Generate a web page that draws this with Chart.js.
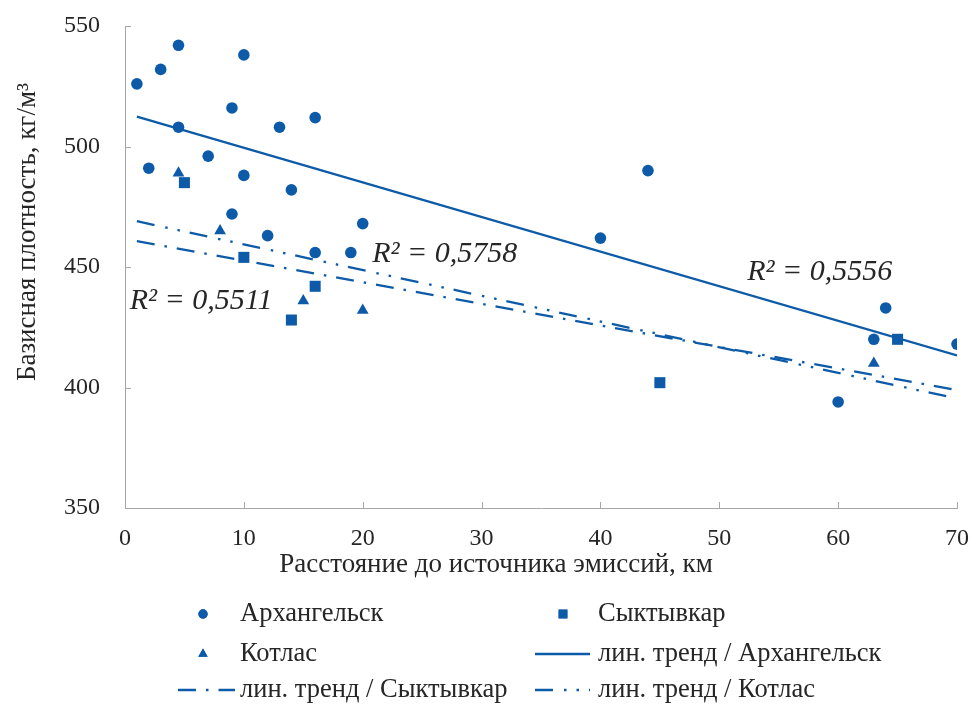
<!DOCTYPE html>
<html>
<head>
<meta charset="utf-8">
<title>Базисная плотность</title>
<script src="https://cdn.jsdelivr.net/npm/chart.js@4.4.1/dist/chart.umd.min.js"></script>
<style>
  html, body { margin: 0; padding: 0; background: #fff; }
</style>
</head>
<body>
<canvas id="chart" width="973" height="704"></canvas>
<script>
// values
const arhX = [1, 3, 4.5, 10, 9, 4.5, 13, 16, 2, 7, 10, 14, 9, 12, 20, 16, 19, 40, 44, 64, 63, 70, 60];
const arhY = [526, 532, 542, 538, 516, 508, 508, 512, 491, 496, 488, 482, 472, 463, 468, 456, 456, 462, 490, 433, 420, 418, 394];
const syktX = [5, 10, 14, 16, 45, 65];
const syktY = [485, 454, 428, 442, 402, 420];
const kotX = [4.5, 8, 15, 20, 63];
const kotY = [489, 465, 436, 432, 410];

// trend line ends (x = 1 and x = 70)
const trendX = [1, 70];
const arhTrend = [512.4, 413.3];
const syktTrend = [460.7, 398.9];
const kotTrend = [469, 395.4];

const xTicks = [0, 10, 20, 30, 40, 50, 60, 70];
const yTicks = [350, 400, 450, 500, 550];

const r2Labels = ["R² = 0,5758", "R² = 0,5511", "R² = 0,5556"];
const r2Anchors = [[20.8, 451.9], [0.4, 432.4], [52.35, 444.4]];

const BLUE = "#0d5ba8";
const AXIS = "#a6a6a6";
const TEXT = "#262626";
const SERIF = "'Liberation Serif', 'Times New Roman', serif";

const pts = (xs, ys) => xs.map((x, i) => ({ x: x, y: ys[i] }));

// inward tick marks, axis titles, R² notes and the 2-column legend
const decor = {
  id: "decor",
  afterDraw(chart) {
    const { ctx, chartArea: a, scales: { x, y } } = chart;
    ctx.save();
    ctx.strokeStyle = AXIS;
    ctx.lineWidth = 1;
    ctx.beginPath();
    xTicks.slice(1).forEach(v => {
      const px = Math.round(x.getPixelForValue(v)) + 0.5;
      ctx.moveTo(px, a.bottom);
      ctx.lineTo(px, a.bottom - 6);
    });
    yTicks.slice(1).forEach(v => {
      const py = Math.round(y.getPixelForValue(v)) + 0.5;
      ctx.moveTo(a.left, py);
      ctx.lineTo(a.left + 6, py);
    });
    ctx.stroke();

    ctx.fillStyle = TEXT;
    ctx.font = "27px " + SERIF;
    ctx.textAlign = "center";
    ctx.textBaseline = "middle";
    ctx.fillText("Расстояние до источника эмиссий, км", 496, 565);
    ctx.save();
    ctx.translate(28, 232);
    ctx.rotate(-Math.PI / 2);
    ctx.fillText("Базисная плотность, кг/м³", 0, 0);
    ctx.restore();

    ctx.font = "italic 30px " + SERIF;
    ctx.textAlign = "left";
    ctx.textBaseline = "alphabetic";
    r2Labels.forEach((t, i) => {
      ctx.fillText(t, x.getPixelForValue(r2Anchors[i][0]), y.getPixelForValue(r2Anchors[i][1]));
    });

    // legend
    const cols = [{ mark: 203, line: [178, 235], text: 240 }, { mark: 563, line: [535, 590], text: 598 }];
    const rows = [614, 654, 690];
    ctx.font = "26.5px " + SERIF;
    ctx.textBaseline = "middle";
    chart.data.datasets.forEach((ds, i) => {
      const c = cols[i % 2], yy = rows[Math.floor(i / 2)];
      ctx.fillStyle = BLUE;
      ctx.strokeStyle = BLUE;
      if (ds.showLine) {
        ctx.save();
        ctx.lineWidth = ds.borderWidth;
        ctx.setLineDash(ds.borderDash || []);
        ctx.beginPath();
        ctx.moveTo(c.line[0], yy);
        ctx.lineTo(c.line[1], yy);
        ctx.stroke();
        ctx.restore();
      } else {
        Chart.helpers.drawPoint(ctx, {
          pointStyle: ds.pointStyle, radius: ds.pointRadius * 0.8, rotation: 0, borderWidth: 0
        }, c.mark, yy);
        ctx.fill();
      }
      ctx.fillStyle = TEXT;
      ctx.fillText(ds.label, c.text, yy);
    });
    ctx.restore();
  }
};

new Chart(document.getElementById("chart"), {
  type: "scatter",
  data: {
    datasets: [
      { label: "Архангельск", data: pts(arhX, arhY), pointStyle: "circle", pointRadius: 5.8 },
      { label: "Сыктывкар", data: pts(syktX, syktY), pointStyle: "rect", pointRadius: 7.8 },
      { label: "Котлас", data: pts(kotX, kotY), pointStyle: "triangle", pointRadius: 6.8 },
      { label: "лин. тренд / Архангельск", data: pts(trendX, arhTrend), showLine: true, pointRadius: 0, borderWidth: 2.3 },
      { label: "лин. тренд / Сыктывкар", data: pts(trendX, syktTrend), showLine: true, pointRadius: 0, borderWidth: 2.3, borderDash: [18, 10, 2.5, 10] },
      { label: "лин. тренд / Котлас", data: pts(trendX, kotTrend), showLine: true, pointRadius: 0, borderWidth: 2.3, borderDash: [18, 11, 2.5, 10, 2.5, 10] },
    ].map(ds => Object.assign({
      backgroundColor: BLUE,
      borderColor: BLUE,
      pointBorderWidth: 0,
      pointHoverRadius: 0,
    }, ds)),
  },
  options: {
    responsive: false,
    animation: false,
    layout: { padding: { left: 0, top: 26, right: 16, bottom: 0 } },
    plugins: {
      legend: { display: false },
      tooltip: { enabled: false },
    },
    scales: {
      x: {
        type: "linear",
        min: 0,
        max: 70,
        afterFit: s => { s.height = 196; s.paddingLeft = 0; s.paddingRight = 0; },
        afterBuildTicks: s => { s.ticks = xTicks.map(v => ({ value: v })); },
        grid: { display: false, drawTicks: false },
        border: { color: AXIS, width: 1 },
        ticks: { color: TEXT, font: { family: SERIF, size: 24 }, padding: 16, maxRotation: 0 },
      },
      y: {
        type: "linear",
        min: 350,
        max: 550,
        afterFit: s => { s.width = 125; s.paddingTop = 0; s.paddingBottom = 0; },
        afterBuildTicks: s => { s.ticks = yTicks.map(v => ({ value: v })); },
        grid: { display: false, drawTicks: false },
        border: { color: AXIS, width: 1 },
        ticks: { color: TEXT, font: { family: SERIF, size: 24 }, padding: 25 },
      },
    },
  },
  plugins: [decor],
});
</script>
</body>
</html>
